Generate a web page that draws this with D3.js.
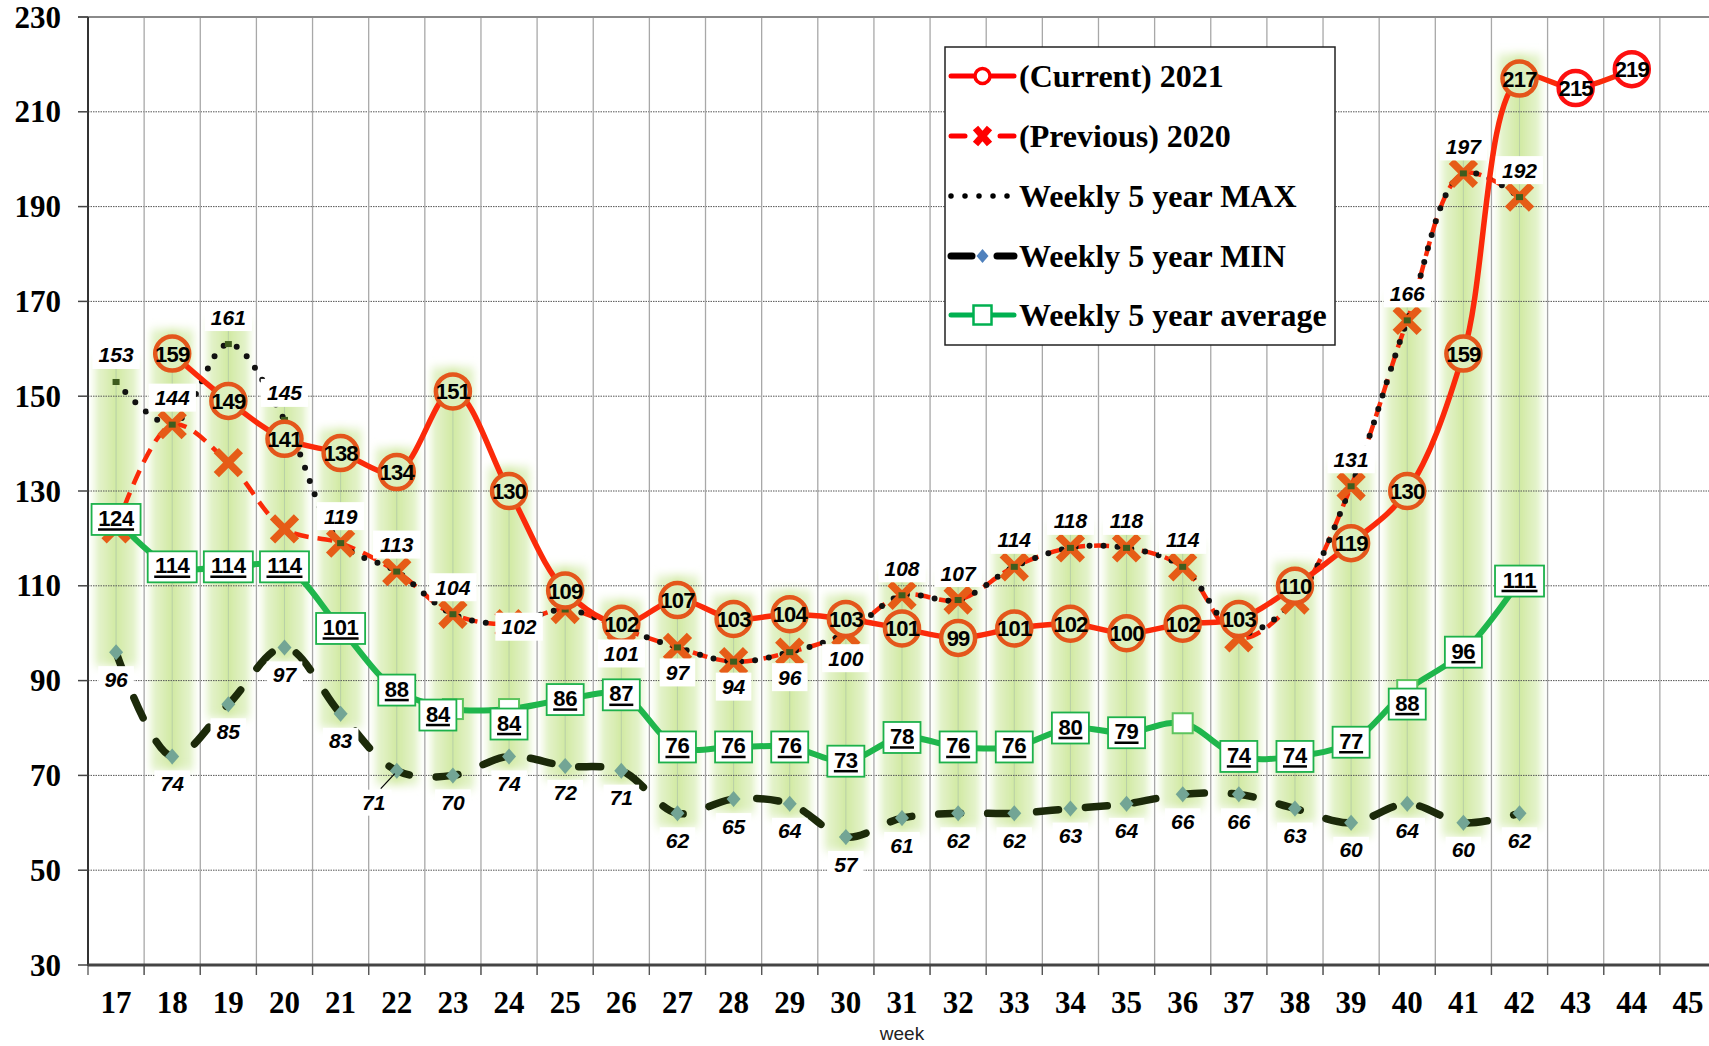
<!DOCTYPE html>
<html>
<head>
<meta charset="utf-8">
<title>Weekly 5 year chart</title>
<script src="https://d3js.org/d3.v7.min.js"></script>
<style>
  html, body { margin: 0; padding: 0; background: #fff; }
  svg { display: block; }
  .serif { font-family: "Liberation Serif", "Times New Roman", serif; font-weight: bold; }
  .sans { font-family: "Liberation Sans", Arial, sans-serif; }
</style>
</head>
<body>
<script>
// ---- data (aligned with weeks, null = no value) ----
var weeks = [17,18,19,20,21,22,23,24,25,26,27,28,29,30,31,32,33,34,35,36,37,38,39,40,41,42,43,44,45];
var yTicks = [30,50,70,90,110,130,150,170,190,210,230];

var current2021 = [null,159,149,141,138,134,151,130,109,102,107,103,104,103,101,99,101,102,100,102,103,110,119,130,159,217,215,219,null];
var previous2020 = [122,144,136,122,119,113,104,102,105,101,97,94,96,100,108,107,114,118,118,114,99,107,131,166,197,192,null,null,null];
var max5 = [153,144,161,145,119,113,104,102,105,101,97,94,96,100,108,107,114,118,118,114,100,107,131,166,197,192,null,null,null];
var min5 = [96,74,85,97,83,71,70,74,72,71,62,65,64,57,61,62,62,63,64,66,66,63,60,64,60,62,null,null,null];
var avg5 = [124,114,114,114,101,88,84,84,86,87,76,76,76,73,78,76,76,80,79,81,74,74,77,88,96,111,null,null,null];

var legendNames = ["(Current) 2021", "(Previous) 2020", "Weekly 5 year MAX", "Weekly 5 year MIN", "Weekly 5 year average"];

// label placement tweaks (week -> offset), labels hidden in the original
var maxLabelBelow = [26,27,28,29,30];
var maxLabelHidden = [25,37,38];
var avgLabelHidden = [36];
var avgLabelShift = {23: [-15, 6], 24: [0, 15], 40: [0, 14]};

var width = 1709, height = 1046;

var x = d3.scaleBand().domain(weeks).range([88, 1716]);
var y = d3.scaleLinear().domain([30, 230]).range([965, 17]);
function cx(w) { return x(w) + x.bandwidth() / 2; }

var svg = d3.select("body").append("svg")
    .attr("width", width)
    .attr("height", height);

var defs = svg.append("defs");
var grad = defs.append("linearGradient").attr("id", "bandGrad").attr("x1", 0).attr("x2", 1).attr("y1", 0).attr("y2", 0);
[[0, "#eaf6d4", 0], [0.18, "#e0f1c4", 0.9], [0.5, "#d1e9a2", 1], [0.82, "#e0f1c4", 0.9], [1, "#eaf6d4", 0]].forEach(function(s) {
  grad.append("stop").attr("offset", s[0]).attr("stop-color", s[1]).attr("stop-opacity", s[2]);
});
defs.append("filter").attr("id", "soft").attr("x", "-20%").attr("y", "-10%").attr("width", "140%").attr("height", "120%")
  .append("feGaussianBlur").attr("stdDeviation", "1.5 5");

svg.append("rect").attr("width", width).attr("height", height).attr("fill", "#fff");

// ---- green high-low bands ----
var bandData = weeks.map(function(w, i) {
  var vals = [current2021[i], previous2020[i], max5[i], min5[i], avg5[i]].filter(function(v) { return v != null; });
  return {week: w, hi: d3.max(vals), lo: min5[i]};
}).filter(function(d) { return d.lo != null; });

var bands = svg.append("g");
bands.selectAll("rect").data(bandData).enter().append("rect")
    .attr("x", function(d) { return cx(d.week) - 27; })
    .attr("width", 54)
    .attr("y", function(d) { return y(d.hi) - 24; })
    .attr("height", function(d) { return y(d.lo) - y(d.hi) + 38; })
    .attr("fill", "url(#bandGrad)")
    .attr("filter", "url(#soft)");
bands.selectAll("line").data(bandData).enter().append("line")
    .attr("x1", function(d) { return cx(d.week); })
    .attr("x2", function(d) { return cx(d.week); })
    .attr("y1", function(d) { return y(d.hi) - 15; })
    .attr("y2", function(d) { return y(d.lo) + 8; })
    .attr("stroke", "#b9cfa6").attr("stroke-width", 1);

// ---- grid ----
var grid = svg.append("g");
grid.selectAll(".hg").data(yTicks.filter(function(t) { return t > 30 && t < 230; })).enter().append("line")
    .attr("x1", 88).attr("x2", width)
    .attr("y1", function(d) { return y(d); }).attr("y2", function(d) { return y(d); })
    .attr("stroke", "#555").attr("stroke-width", 1).attr("stroke-dasharray", "1.5 1");
grid.selectAll(".vg").data(weeks.slice(1).concat([46])).enter().append("line")
    .attr("x1", function(d) { return x(d) || 1716; }).attr("x2", function(d) { return x(d) || 1716; })
    .attr("y1", 17).attr("y2", 975)
    .attr("stroke", "#a8a8a8").attr("stroke-width", 1.3);
grid.selectAll(".xt").data(weeks).enter().append("line")
    .attr("x1", function(d) { return x(d); }).attr("x2", function(d) { return x(d); })
    .attr("y1", 965).attr("y2", 975)
    .attr("stroke", "#555").attr("stroke-width", 1.3);

// frame & axes
svg.append("line").attr("x1", 78).attr("x2", width).attr("y1", 17).attr("y2", 17).attr("stroke", "#8a8a8a").attr("stroke-width", 2);
svg.append("line").attr("x1", 88).attr("x2", 88).attr("y1", 17).attr("y2", 966).attr("stroke", "#333").attr("stroke-width", 2);
svg.append("line").attr("x1", 88).attr("x2", width).attr("y1", 965).attr("y2", 965).attr("stroke", "#444").attr("stroke-width", 3);
svg.selectAll(".yt").data(yTicks).enter().append("line")
    .attr("x1", 78).attr("x2", 88)
    .attr("y1", function(d) { return y(d); }).attr("y2", function(d) { return y(d); })
    .attr("stroke", "#444").attr("stroke-width", 1.5);

svg.selectAll(".ylab").data(yTicks).enter().append("text")
    .attr("class", "serif")
    .attr("x", 61).attr("y", function(d) { return y(d) + 10.5; })
    .attr("text-anchor", "end").attr("font-size", 31)
    .text(function(d) { return d; });
svg.selectAll(".xlab").data(weeks).enter().append("text")
    .attr("class", "serif")
    .attr("x", function(d) { return cx(d); }).attr("y", 1013)
    .attr("text-anchor", "middle").attr("font-size", 31)
    .text(function(d) { return d; });
svg.append("text").attr("class", "sans")
    .attr("x", 902).attr("y", 1040).attr("text-anchor", "middle").attr("font-size", 19).attr("fill", "#222")
    .text("week");

// ---- lines ----
function pts(arr) {
  return weeks.map(function(w, i) { return {week: w, v: arr[i]}; });
}
var line = d3.line()
    .defined(function(d) { return d.v != null; })
    .x(function(d) { return cx(d.week); })
    .y(function(d) { return y(d.v); })
    .curve(d3.curveCatmullRom.alpha(0.5));

var series = svg.append("g").attr("fill", "none");
series.append("path").attr("d", line(pts(min5)))
    .attr("stroke", "#1c2a0a").attr("stroke-width", 7.5).attr("stroke-dasharray", "22 27").attr("stroke-linecap", "round");
series.append("path").attr("d", line(pts(avg5)))
    .attr("stroke", "#1fb64c").attr("stroke-width", 6);
series.append("path").attr("d", line(pts(previous2020)))
    .attr("stroke", "#fa2a08").attr("stroke-width", 4.5).attr("stroke-dasharray", "15 9");
series.append("path").attr("d", line(pts(max5)))
    .attr("stroke", "#111").attr("stroke-width", 6).attr("stroke-dasharray", "0 14").attr("stroke-linecap", "round");
series.append("path").attr("d", line(pts(current2021)))
    .attr("stroke", "#fb2a0a").attr("stroke-width", 5.5);

// ---- markers ----
var mk = svg.append("g");
var minPts = pts(min5).filter(function(d) { return d.v != null; });
mk.selectAll(".dia").data(minPts).enter().append("path")
    .attr("d", "M0,-8L7,0L0,8L-7,0Z")
    .attr("transform", function(d) { return "translate(" + cx(d.week) + "," + y(d.v) + ")"; })
    .attr("fill", "#73a595");

var avgPts = pts(avg5).filter(function(d) { return d.v != null; });
mk.selectAll(".sq").data(avgPts).enter().append("rect")
    .attr("x", function(d) { return cx(d.week) - 10; }).attr("y", function(d) { return y(d.v) - 10; })
    .attr("width", 20).attr("height", 20)
    .attr("fill", "#fff").attr("stroke", "#5cc45e").attr("stroke-width", 2);

var prevPts = pts(previous2020).filter(function(d) { return d.v != null; });
mk.selectAll(".xm").data(prevPts).enter().append("path")
    .attr("d", "M-12,-12L12,12M-12,12L12,-12")
    .attr("transform", function(d) { return "translate(" + cx(d.week) + "," + y(d.v) + ")"; })
    .attr("stroke", "#e65c17").attr("stroke-width", 7.5).attr("fill", "none");

var maxPts = pts(max5).filter(function(d) { return d.v != null; });
mk.selectAll(".mx").data(maxPts).enter().append("rect")
    .attr("x", function(d) { return cx(d.week) - 3.5; }).attr("y", function(d) { return y(d.v) - 3; })
    .attr("width", 7).attr("height", 6).attr("fill", "#3e5c1e");

var curPts = pts(current2021).filter(function(d) { return d.v != null; });
mk.selectAll(".ci").data(curPts).enter().append("circle")
    .attr("cx", function(d) { return cx(d.week); }).attr("cy", function(d) { return y(d.v); })
    .attr("r", 17)
    .attr("fill", function(d) { return d.week <= 42 ? "#dcefbd" : "#fff"; })
    .attr("stroke", function(d) { return d.week <= 42 ? "#e4561b" : "#fd1010"; })
    .attr("stroke-width", 4.5);

// ---- labels ----
var lab = svg.append("g").attr("class", "sans").attr("font-weight", "bold");

// max labels (italic, white box)
maxPts.filter(function(d) { return maxLabelHidden.indexOf(d.week) < 0; }).forEach(function(d) {
  var lx = cx(d.week), ly = y(d.v) + (maxLabelBelow.indexOf(d.week) >= 0 ? 25 : -27);
  if (d.week === 24) { lx += 10; ly = y(d.v) + 3; }
  var w = String(d.v).length * 11.8 + 12;
  lab.append("rect").attr("x", lx - w / 2).attr("y", ly - 14).attr("width", w).attr("height", 28).attr("fill", "#fff");
  lab.append("text").attr("x", lx).attr("y", ly + 7.5).attr("text-anchor", "middle")
      .attr("font-size", 21).attr("font-style", "italic").text(d.v);
});

// min labels
minPts.forEach(function(d) {
  var px = cx(d.week), py = y(d.v);
  var lx = px, ly = py + 27;
  if (d.week === 22) {
    lx = px - 23; ly = py + 32;
    lab.append("line").attr("x1", lx + 7).attr("y1", ly - 14).attr("x2", px - 2).attr("y2", py + 3)
        .attr("stroke", "#000").attr("stroke-width", 1.2);
  }
  var w = String(d.v).length * 11.8 + 12;
  lab.append("rect").attr("x", lx - w / 2).attr("y", ly - 13).attr("width", w).attr("height", 26).attr("fill", "#fff");
  lab.append("text").attr("x", lx).attr("y", ly + 7.5).attr("text-anchor", "middle")
      .attr("font-size", 21).attr("font-style", "italic").text(d.v);
});

// average labels (boxed, underlined)
avgPts.filter(function(d) { return avgLabelHidden.indexOf(d.week) < 0; }).forEach(function(d) {
  var s = avgLabelShift[d.week] || [0, 0];
  var lx = cx(d.week) + s[0], ly = y(d.v) + s[1];
  var tw = String(d.v).length * 12;
  var w = tw + 13;
  lab.append("rect").attr("x", lx - w / 2).attr("y", ly - 15.5).attr("width", w).attr("height", 31)
      .attr("fill", "#fff").attr("stroke", "#1db14b").attr("stroke-width", 1.8);
  lab.append("text").attr("x", lx).attr("y", ly + 6.5).attr("text-anchor", "middle")
      .attr("font-size", 22).attr("letter-spacing", -0.3).text(d.v);
  lab.append("line").attr("x1", lx - tw / 2).attr("x2", lx + tw / 2).attr("y1", ly + 10).attr("y2", ly + 10)
      .attr("stroke", "#000").attr("stroke-width", 2.5);
});

// current labels inside circles
curPts.forEach(function(d) {
  lab.append("text").attr("x", cx(d.week)).attr("y", y(d.v) + 8).attr("text-anchor", "middle")
      .attr("font-size", 22).attr("letter-spacing", -0.8).text(d.v);
});

// ---- legend ----
var lg = svg.append("g").attr("transform", "translate(945,47)");
lg.append("rect").attr("width", 390).attr("height", 298).attr("fill", "#fff").attr("stroke", "#222").attr("stroke-width", 1.5);
var rowY = [29, 89, 149, 209, 268];
var sx0 = 6, sx1 = 69, smid = 37.5;

lg.append("line").attr("x1", sx0).attr("x2", sx1).attr("y1", rowY[0]).attr("y2", rowY[0]).attr("stroke", "#ff0000").attr("stroke-width", 5).attr("stroke-linecap", "round");
lg.append("circle").attr("cx", smid).attr("cy", rowY[0]).attr("r", 7.5).attr("fill", "#fff").attr("stroke", "#ff0000").attr("stroke-width", 3.5);

lg.append("line").attr("x1", sx0).attr("x2", 20).attr("y1", rowY[1]).attr("y2", rowY[1]).attr("stroke", "#ff0000").attr("stroke-width", 5).attr("stroke-linecap", "round");
lg.append("line").attr("x1", 55).attr("x2", sx1).attr("y1", rowY[1]).attr("y2", rowY[1]).attr("stroke", "#ff0000").attr("stroke-width", 5).attr("stroke-linecap", "round");
lg.append("path").attr("d", "M-7,-8L7,8M-7,8L7,-8").attr("transform", "translate(" + smid + "," + rowY[1] + ")")
    .attr("stroke", "#ff0000").attr("stroke-width", 7);

lg.append("line").attr("x1", sx0).attr("x2", sx1).attr("y1", rowY[2]).attr("y2", rowY[2]).attr("stroke", "#000").attr("stroke-width", 5.5)
    .attr("stroke-dasharray", "0 14").attr("stroke-linecap", "round");

lg.append("line").attr("x1", sx0).attr("x2", 27).attr("y1", rowY[3]).attr("y2", rowY[3]).attr("stroke", "#000").attr("stroke-width", 7).attr("stroke-linecap", "round");
lg.append("line").attr("x1", 52).attr("x2", sx1).attr("y1", rowY[3]).attr("y2", rowY[3]).attr("stroke", "#000").attr("stroke-width", 7).attr("stroke-linecap", "round");
lg.append("path").attr("d", "M0,-7L6,0L0,7L-6,0Z").attr("transform", "translate(" + smid + "," + rowY[3] + ")").attr("fill", "#4f81bd");

lg.append("line").attr("x1", sx0).attr("x2", sx1).attr("y1", rowY[4]).attr("y2", rowY[4]).attr("stroke", "#00b050").attr("stroke-width", 5).attr("stroke-linecap", "round");
lg.append("rect").attr("x", smid - 9).attr("y", rowY[4] - 9.5).attr("width", 18).attr("height", 19).attr("fill", "#fff").attr("stroke", "#00b050").attr("stroke-width", 2.5);

lg.selectAll(".lt").data(legendNames).enter().append("text")
    .attr("class", "serif")
    .attr("x", 74).attr("y", function(d, i) { return rowY[i] + 10.5; })
    .attr("font-size", 32)
    .text(function(d) { return d; });
</script>
</body>
</html>
